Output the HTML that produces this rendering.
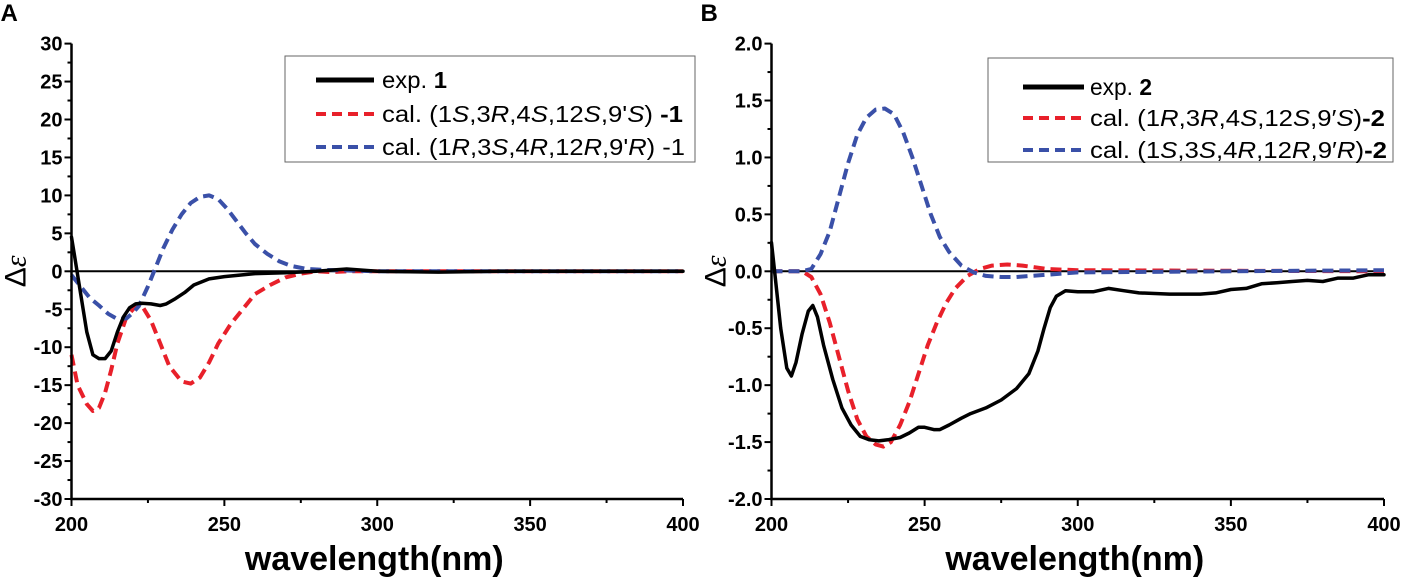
<!DOCTYPE html>
<html><head><meta charset="utf-8"><style>
html,body{margin:0;padding:0;background:#fff;}
svg text{font-family:"Liberation Sans",Arial,sans-serif;}
</style></head><body>
<svg id="chart" width="1401" height="579" viewBox="0 0 1401 579" xmlns="http://www.w3.org/2000/svg"></svg>
<script>
// Panel A data
const wlA_exp=[200,201,203,205,207,209,211,213,215,217,219,221,223,226,229,231,234,237,240,245,250,255,260,270,280,290,300,320,340,360,380,400];
const valA_exp=[4.5,2,-3,-8,-11,-11.5,-11.5,-10.5,-8,-6,-4.8,-4.3,-4.2,-4.3,-4.5,-4.3,-3.6,-2.8,-1.8,-1.0,-0.7,-0.5,-0.3,-0.2,0,0.3,0,-0.1,0,0,0,0];
const wlA_red=[200,202,205,207,209,211,213,215,218,221,223,226,229,232,236,239,242,245,248,252,255,260,265,270,275,280,285,290,400];
const valA_red=[-11,-15,-17.5,-18.4,-18,-16,-13,-9.5,-6,-4.6,-4.5,-6.5,-9.5,-12.5,-14.5,-14.8,-14,-12,-9.5,-7,-5.5,-3,-1.8,-0.8,-0.3,0,-0.1,0,0];
const wlA_blue=[200,203,206,209,212,215,218,220,222,225,227,230,233,236,239,242,245,248,251,254,257,260,264,268,272,277,282,290,300,400];
const valA_blue=[-0.5,-2,-3.5,-4.5,-5.6,-6.3,-6.2,-5.5,-4.6,-2,0,3,5.5,7.5,9,9.8,10,9.5,8.2,6.6,5,3.6,2.3,1.3,0.7,0.3,0.2,0.1,0,0];
// Panel B data
const wlB_exp=[200,201,203,205,206.5,208,210,212,213.5,215,217,220,223,226,229,232,235,238,242,245,248,250,253,255,258,262,265,270,275,280,284,287,289,291,293,296,300,305,310,315,320,330,340,345,350,355,360,365,370,375,380,385,390,395,400];
const valB_exp=[0.25,0,-0.5,-0.85,-0.92,-0.8,-0.55,-0.35,-0.3,-0.4,-0.65,-0.95,-1.2,-1.35,-1.45,-1.48,-1.49,-1.48,-1.46,-1.42,-1.37,-1.37,-1.39,-1.39,-1.35,-1.29,-1.25,-1.2,-1.13,-1.03,-0.9,-0.7,-0.5,-0.32,-0.22,-0.17,-0.18,-0.18,-0.15,-0.17,-0.19,-0.2,-0.2,-0.19,-0.16,-0.15,-0.11,-0.1,-0.09,-0.08,-0.09,-0.06,-0.06,-0.03,-0.03];
const wlB_red=[200,210,213,216,219,222,225,228,231,234,236.5,239,242,245,248,251,254,257,260,264,268,272,277,282,290,300,400];
const valB_red=[0,0,-0.05,-0.2,-0.45,-0.75,-1.05,-1.3,-1.45,-1.52,-1.54,-1.5,-1.35,-1.15,-0.9,-0.65,-0.45,-0.28,-0.15,-0.04,0.02,0.05,0.06,0.05,0.02,0.01,0];
const wlB_blue=[200,210,213,216,219,222,225,228,231,234,237,240,243,246,249,252,255,258,262,266,270,275,280,290,300,400];
const valB_blue=[0,0,0.02,0.15,0.35,0.65,0.95,1.2,1.35,1.42,1.43,1.38,1.22,1.0,0.75,0.5,0.3,0.17,0.05,-0.01,-0.04,-0.05,-0.05,-0.03,-0.01,0.01];
const xTicks=[200,250,300,350,400];
const yTicksA=[30,25,20,15,10,5,0,-5,-10,-15,-20,-25,-30];
const yTicksB=[2.0,1.5,1.0,0.5,0.0,-0.5,-1.0,-1.5,-2.0];
const yLabelsB=["2.0","1.5","1.0","0.5","0.0","-0.5","-1.0","-1.5","-2.0"];

const NS="http://www.w3.org/2000/svg";
const svg=document.getElementById('chart');
function mk(tag,attrs,parent){const e=document.createElementNS(NS,tag);for(const k in attrs)e.setAttribute(k,attrs[k]);(parent||svg).appendChild(e);return e;}

function panel(id,x0,x1,yTop,yBot,ymin,ymax,yTicks,yLabels,minorStep,series,legend,letter){
  const g=mk('g',{});
  
  
  const sx=v=>x0+(v-200)/200*(x1-x0);
  const sy=v=>yTop+(ymax-v)/(ymax-ymin)*(yBot-yTop);
  const lt=mk('text',{x:x0-71,y:21,'font-size':24,'font-weight':'bold'},g);lt.textContent=letter;
  
  
  const z=mk('line',{x1:x0,x2:x1,y1:sy(0),y2:sy(0),stroke:'#000','stroke-width':2},g);
  
  
  series.forEach(s=>{
    const d=s.x.map((v,i)=>(i?'L':'M')+sx(v).toFixed(1)+','+sy(s.y[i]).toFixed(1)).join(' ');
    const p=mk('path',{d:d,fill:'none',stroke:s.c,'stroke-width':s.dash?4:3.5,'stroke-linejoin':'round','stroke-linecap':s.dash?'butt':'round'},g);
    if(s.dash)p.setAttribute('stroke-dasharray','11 6');
    
    
  });
  const ax=mk('path',{d:`M${x0},${yTop} L${x0},${yBot} L${x1},${yBot}`,fill:'none',stroke:'#000','stroke-width':2.5},g);
  
  
  for(let v=ymin;v<=ymax+1e-9;v+=minorStep){
    const major=yTicks.some(t=>Math.abs(t-v)<1e-9);
    mk('line',{x1:x0-(major?7:4),x2:x0,y1:sy(v),y2:sy(v),stroke:'#000','stroke-width':2},g);
  }
  yTicks.forEach((t,i)=>{
    const tx=mk('text',{x:x0-9,y:sy(t)+7,'font-size':20,'font-weight':'bold','text-anchor':'end'},g);
    tx.textContent=yLabels[i];
    
    
  });
  for(let v=200;v<=400;v+=25){
    const major=v%50===0;
    mk('line',{x1:sx(v),x2:sx(v),y1:yBot,y2:yBot+(major?7:4),stroke:'#000','stroke-width':2},g);
  }
  xTicks.forEach(t=>{
    const tx=mk('text',{x:sx(t),y:yBot+32,'font-size':20,'font-weight':'bold','text-anchor':'middle'},g);
    tx.textContent=t;
    
    
  });
  const xt=mk('text',{x:(x0+x1)/2-3,y:570,'font-size':34,'font-weight':'bold','text-anchor':'middle'},g);
  xt.textContent='wavelength(nm)';
  
  
  const yt=mk('text',{x:0,y:0,'font-size':30,'text-anchor':'middle',transform:`translate(${x0-46},${sy(0)}) rotate(-90)`},g);
  yt.innerHTML='Δ<tspan font-style="italic" font-family="Liberation Serif">ε</tspan>';
  
  
  const L=legend;
  const box=mk('rect',{x:L.x,y:L.y,width:L.w,height:L.h,fill:'#fff',stroke:'#666','stroke-width':1},g);
  
  
  L.items.forEach((it,i)=>{
    const yy=L.rows[i];
    const ln=mk('line',{x1:L.lx1,x2:L.lx2,y1:yy,y2:yy,stroke:it.c,'stroke-width':it.dash?4:5},g);
    if(it.dash)ln.setAttribute('stroke-dasharray','10 6');
    
    
    const tx=mk('text',{x:L.tx,y:yy+8,'font-size':23,textLength:it.w,lengthAdjust:'spacingAndGlyphs'},g);
    tx.innerHTML=it.html;
    
    
  });
}
const B=s=>`<tspan font-weight="bold">${s}</tspan>`, I=s=>`<tspan font-style="italic">${s}</tspan>`;
panel('a',71.5,683,43.6,499,-30,30,yTicksA,yTicksA.map(String),2.5,[
  {x:wlA_red,y:valA_red,c:'#e8202a',dash:true,name:'series-cal-1S'},
  {x:wlA_blue,y:valA_blue,c:'#3a50a8',dash:true,name:'series-cal-1R'},
  {x:wlA_exp,y:valA_exp,c:'#000',dash:false,name:'series-exp-1'}],
  {x:285,y:56,w:410,h:106,lx1:316,lx2:374,tx:382,rows:[80,114,147],items:[
   {c:'#000',dash:false,w:65,html:'exp. '+B('1')},
   {c:'#e8202a',dash:true,w:301,html:'cal. (1'+I('S')+',3'+I('R')+',4'+I('S')+',12'+I('S')+',9\''+I('S')+') '+B('-1')},
   {c:'#3a50a8',dash:true,w:303,html:'cal. (1'+I('R')+',3'+I('S')+',4'+I('R')+',12'+I('R')+',9\''+I('R')+') -1'}]},'A');
panel('b',771.5,1384,43.6,499,-2,2,yTicksB,yLabelsB,0.25,[
  {x:wlB_red,y:valB_red,c:'#e8202a',dash:true,name:'series-cal-1R-2'},
  {x:wlB_blue,y:valB_blue,c:'#3a50a8',dash:true,name:'series-cal-1S-2'},
  {x:wlB_exp,y:valB_exp,c:'#000',dash:false,name:'series-exp-2'}],
  {x:988,y:58,w:405,h:104,lx1:1023,lx2:1084,tx:1090,rows:[87,118,150],items:[
   {c:'#000',dash:false,w:62,html:'exp. '+B('2')},
   {c:'#e8202a',dash:true,w:295,html:'cal. (1'+I('R')+',3'+I('R')+',4'+I('S')+',12'+I('S')+',9\u2032'+I('S')+')'+B('-2')},
   {c:'#3a50a8',dash:true,w:297,html:'cal. (1'+I('S')+',3'+I('S')+',4'+I('R')+',12'+I('R')+',9\u2032'+I('R')+')'+B('-2')}]},'B');
</script>
</body></html>
